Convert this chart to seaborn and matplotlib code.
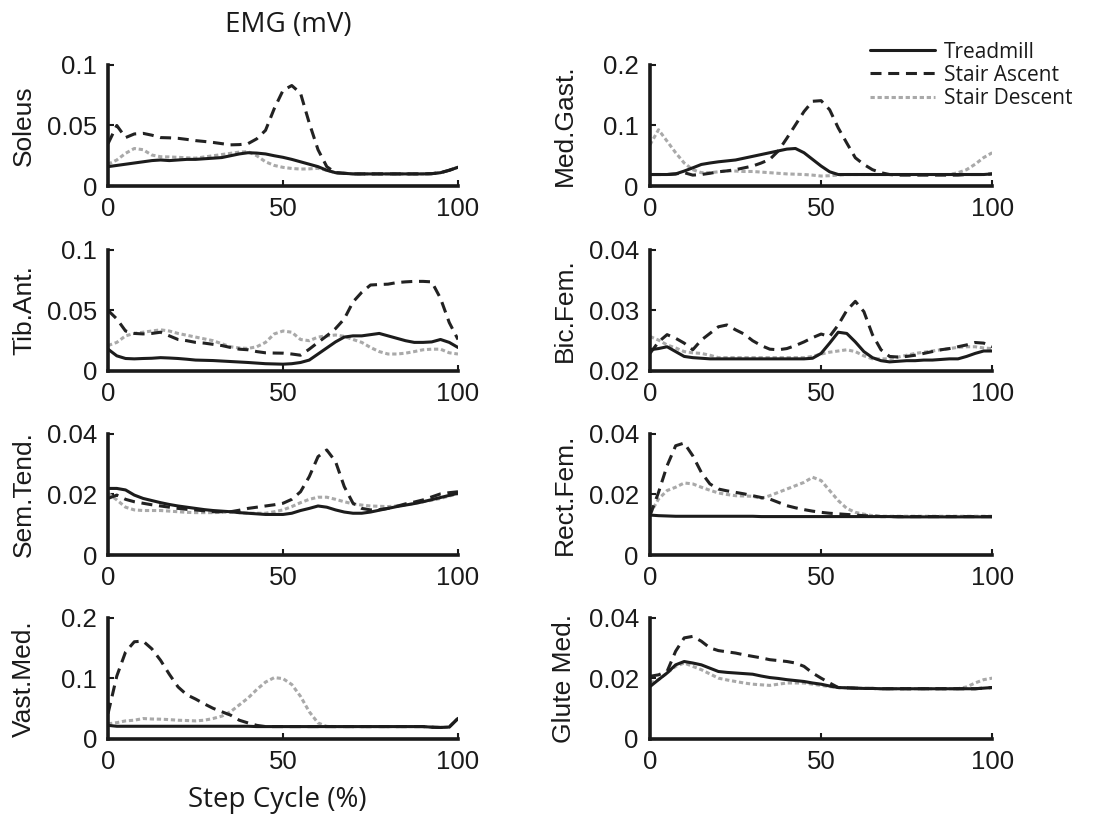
import numpy as np
import pandas as pd
import matplotlib.pyplot as plt
import seaborn as sns

# step cycle sampling (%), every 2.5 %
step_pct = np.arange(0, 100.1, 2.5)

conditions = ['Treadmill', 'Stair Ascent', 'Stair Descent']

# ---- EMG envelopes (mV) ----
soleus_tm = [0.016, 0.017, 0.018, 0.019, 0.020, 0.021, 0.0215, 0.021, 0.0215, 0.022, 0.022, 0.0225, 0.023, 0.0235,
             0.025, 0.0265, 0.0275, 0.0272, 0.0265, 0.025, 0.0237, 0.022, 0.020, 0.018, 0.016, 0.013, 0.011, 0.0105,
             0.010, 0.010, 0.010, 0.010, 0.010, 0.010, 0.010, 0.010, 0.010, 0.0102, 0.011, 0.013, 0.0155]
soleus_sa = [0.035, 0.050, 0.040, 0.043, 0.0435, 0.042, 0.040, 0.0398, 0.0394, 0.0385, 0.0375, 0.0368, 0.036, 0.035,
             0.034, 0.0342, 0.035, 0.039, 0.046, 0.064, 0.079, 0.083, 0.0766, 0.052, 0.030, 0.016, 0.011, 0.0105,
             0.010, 0.010, 0.010, 0.010, 0.010, 0.010, 0.010, 0.010, 0.010, 0.0102, 0.011, 0.013, 0.0155]
soleus_sd = [0.018, 0.0215, 0.027, 0.031, 0.030, 0.0256, 0.0242, 0.024, 0.0237, 0.0233, 0.023, 0.024, 0.025, 0.026,
             0.027, 0.028, 0.0284, 0.025, 0.020, 0.017, 0.0154, 0.0145, 0.014, 0.0142, 0.0146, 0.013, 0.011, 0.0105,
             0.010, 0.010, 0.010, 0.010, 0.010, 0.010, 0.010, 0.010, 0.010, 0.0102, 0.011, 0.013, 0.0155]

medgast_tm = [0.019, 0.019, 0.019, 0.020, 0.0247, 0.030, 0.0356, 0.038, 0.040, 0.0415, 0.043, 0.046, 0.049, 0.052,
              0.055, 0.058, 0.061, 0.062, 0.055, 0.044, 0.033, 0.0235, 0.019, 0.019, 0.019, 0.019, 0.019, 0.019,
              0.019, 0.019, 0.019, 0.019, 0.019, 0.019, 0.019, 0.019, 0.019, 0.019, 0.019, 0.019, 0.020]
medgast_sa = [0.019, 0.019, 0.019, 0.020, 0.022, 0.018, 0.019, 0.021, 0.0235, 0.025, 0.027, 0.030, 0.033, 0.038,
              0.044, 0.058, 0.079, 0.101, 0.123, 0.140, 0.141, 0.126, 0.096, 0.071, 0.0466, 0.0356, 0.027, 0.022,
              0.019, 0.018, 0.018, 0.018, 0.018, 0.018, 0.018, 0.018, 0.018, 0.019, 0.019, 0.019, 0.020]
medgast_sd = [0.068, 0.093, 0.074, 0.055, 0.038, 0.027, 0.022, 0.022, 0.0235, 0.025, 0.0247, 0.024, 0.024, 0.023,
              0.022, 0.021, 0.020, 0.0195, 0.019, 0.018, 0.0165, 0.017, 0.018, 0.019, 0.019, 0.019, 0.019, 0.019,
              0.019, 0.019, 0.019, 0.019, 0.019, 0.019, 0.019, 0.019, 0.022, 0.027, 0.036, 0.047, 0.055]

tibant_tm = [0.018, 0.0125, 0.0103, 0.010, 0.0103, 0.0105, 0.011, 0.0107, 0.0103, 0.0097, 0.009, 0.0088, 0.0086,
             0.0082, 0.0078, 0.0074, 0.007, 0.0065, 0.006, 0.0058, 0.0056, 0.006, 0.007, 0.009, 0.014, 0.019, 0.024,
             0.028, 0.029, 0.029, 0.030, 0.031, 0.029, 0.027, 0.025, 0.0236, 0.0236, 0.024, 0.026, 0.0236, 0.0194]
tibant_sa = [0.050, 0.043, 0.033, 0.031, 0.0306, 0.031, 0.032, 0.029, 0.026, 0.025, 0.0236, 0.023, 0.022, 0.021,
             0.0194, 0.018, 0.0175, 0.016, 0.015, 0.0148, 0.0147, 0.014, 0.013, 0.018, 0.0236, 0.029, 0.035, 0.043,
             0.057, 0.065, 0.071, 0.0714, 0.0717, 0.073, 0.0736, 0.074, 0.074, 0.0736, 0.060, 0.040, 0.026]
tibant_sd = [0.021, 0.0236, 0.029, 0.031, 0.032, 0.033, 0.034, 0.033, 0.031, 0.0295, 0.028, 0.0265, 0.025, 0.0225,
             0.020, 0.019, 0.0186, 0.020, 0.0236, 0.0306, 0.033, 0.032, 0.026, 0.025, 0.028, 0.029, 0.0297, 0.0286,
             0.026, 0.0236, 0.0194, 0.016, 0.014, 0.014, 0.0147, 0.016, 0.0175, 0.018, 0.018, 0.015, 0.014]

bicfem_tm = [0.0235, 0.0237, 0.024, 0.0232, 0.0224, 0.0222, 0.0221, 0.022, 0.022, 0.022, 0.022, 0.022, 0.022, 0.022,
             0.022, 0.022, 0.022, 0.022, 0.022, 0.0221, 0.0229, 0.0246, 0.0264, 0.0262, 0.0248, 0.0232, 0.0222,
             0.0217, 0.0215, 0.0216, 0.0217, 0.0217, 0.0218, 0.0218, 0.0219, 0.022, 0.022, 0.0224, 0.0229, 0.0233,
             0.0233]
bicfem_sa = [0.0229, 0.0248, 0.026, 0.0254, 0.0246, 0.0235, 0.0251, 0.0262, 0.0273, 0.0276, 0.0268, 0.0261, 0.025,
             0.0242, 0.0236, 0.0235, 0.0237, 0.0242, 0.0248, 0.0255, 0.0261, 0.0257, 0.0276, 0.030, 0.0315, 0.0298,
             0.026, 0.0235, 0.0224, 0.0223, 0.0224, 0.0226, 0.0229, 0.0232, 0.0235, 0.0237, 0.024, 0.0243, 0.0247,
             0.0246, 0.024]
bicfem_sd = [0.0257, 0.0251, 0.0243, 0.0238, 0.0232, 0.023, 0.0229, 0.0226, 0.0222, 0.0222, 0.0222, 0.0222, 0.0222,
             0.0222, 0.0222, 0.0222, 0.0222, 0.0222, 0.0222, 0.0224, 0.0228, 0.0231, 0.0233, 0.0235, 0.0232, 0.0225,
             0.022, 0.022, 0.022, 0.0223, 0.0226, 0.0229, 0.0231, 0.0233, 0.0235, 0.0237, 0.0239, 0.024, 0.024,
             0.0238, 0.0237]

semtend_tm = [0.022, 0.022, 0.0215, 0.0198, 0.0187, 0.018, 0.0173, 0.0167, 0.0162, 0.0158, 0.0154, 0.015, 0.0147,
              0.0145, 0.0143, 0.014, 0.0138, 0.0136, 0.0134, 0.0134, 0.0134, 0.0138, 0.0147, 0.0154, 0.0162, 0.0158,
              0.0149, 0.0142, 0.0138, 0.0138, 0.0142, 0.0148, 0.0154, 0.016, 0.0165, 0.017, 0.0176, 0.0183, 0.019,
              0.0197, 0.0204]
semtend_sa = [0.0187, 0.0198, 0.0184, 0.0176, 0.0171, 0.0166, 0.0162, 0.0158, 0.0154, 0.0151, 0.0149, 0.0146,
              0.0143, 0.0143, 0.0143, 0.0148, 0.0154, 0.0158, 0.0162, 0.0166, 0.0171, 0.0184, 0.0209, 0.0259, 0.0325,
              0.0347, 0.0309, 0.0226, 0.0171, 0.0154, 0.0149, 0.015, 0.0154, 0.0161, 0.0169, 0.0175, 0.0182, 0.0192,
              0.0202, 0.0206, 0.0209]
semtend_sd = [0.0204, 0.0182, 0.0158, 0.0149, 0.0147, 0.0147, 0.0147, 0.0145, 0.0143, 0.0141, 0.014, 0.014, 0.014,
              0.0141, 0.0142, 0.014, 0.0138, 0.0138, 0.0138, 0.0143, 0.0149, 0.016, 0.0173, 0.0184, 0.0191, 0.0191,
              0.0184, 0.0176, 0.0169, 0.0165, 0.0162, 0.0161, 0.016, 0.0162, 0.0165, 0.017, 0.0176, 0.0181, 0.0187,
              0.0195, 0.0202]

rectfem_tm = [0.0132, 0.013, 0.0129, 0.0128, 0.0128, 0.0128, 0.0128, 0.0128, 0.0128, 0.0128, 0.0128, 0.0128, 0.0128,
              0.0127, 0.0127, 0.0127, 0.0127, 0.0127, 0.0127, 0.0127, 0.0127, 0.0127, 0.0127, 0.0127, 0.0127, 0.0127,
              0.0127, 0.0127, 0.0127, 0.0126, 0.0126, 0.0126, 0.0126, 0.0126, 0.0126, 0.0126, 0.0126, 0.0126, 0.0126,
              0.0126, 0.0126]
rectfem_sa = [0.013, 0.0207, 0.0295, 0.0361, 0.037, 0.0328, 0.0273, 0.0235, 0.0218, 0.0212, 0.0207, 0.0202, 0.0196,
              0.019, 0.0185, 0.0174, 0.0163, 0.0156, 0.015, 0.0145, 0.0141, 0.0138, 0.0136, 0.0134, 0.0132, 0.013,
              0.0129, 0.0127, 0.0127, 0.0127, 0.0127, 0.0127, 0.0127, 0.0127, 0.0127, 0.0127, 0.0127, 0.0127, 0.0127,
              0.0127, 0.0127]
rectfem_sd = [0.0136, 0.0185, 0.0213, 0.0224, 0.0238, 0.0235, 0.0224, 0.0214, 0.0205, 0.020, 0.0196, 0.0195, 0.0194,
              0.0187, 0.0196, 0.0207, 0.0218, 0.0229, 0.024, 0.0257, 0.0246, 0.0213, 0.018, 0.0154, 0.0141, 0.0135,
              0.013, 0.0128, 0.0128, 0.0128, 0.0128, 0.0128, 0.0128, 0.0128, 0.0128, 0.0128, 0.0128, 0.0128, 0.0128,
              0.0128, 0.0128]

vastmed_tm = [0.0225, 0.021, 0.021, 0.021, 0.021, 0.021, 0.021, 0.021, 0.021, 0.021, 0.021, 0.021, 0.021, 0.021,
              0.021, 0.021, 0.021, 0.0205, 0.0205, 0.0205, 0.0205, 0.0205, 0.0205, 0.0205, 0.0205, 0.0205, 0.0205,
              0.0205, 0.0205, 0.0205, 0.0205, 0.0205, 0.0205, 0.0205, 0.0205, 0.0205, 0.0205, 0.0195, 0.019, 0.0197,
              0.034]
vastmed_sa = [0.042, 0.104, 0.1437, 0.1606, 0.1617, 0.149, 0.130, 0.107, 0.086, 0.073, 0.066, 0.058, 0.0507, 0.045,
              0.0394, 0.031, 0.0265, 0.0225, 0.0205, 0.0205, 0.0205, 0.0205, 0.0205, 0.0205, 0.0205, 0.0205, 0.0205,
              0.0205, 0.0205, 0.0205, 0.0205, 0.0205, 0.0205, 0.0205, 0.0205, 0.0205, 0.0205, 0.0195, 0.019, 0.0197,
              0.034]
vastmed_sd = [0.025, 0.027, 0.0299, 0.031, 0.0338, 0.033, 0.0327, 0.032, 0.031, 0.0305, 0.0299, 0.031, 0.0338,
              0.0377, 0.045, 0.0563, 0.0676, 0.0817, 0.094, 0.1014, 0.0997, 0.090, 0.0704, 0.045, 0.0265, 0.0208,
              0.0205, 0.0205, 0.0205, 0.0205, 0.0205, 0.0205, 0.0205, 0.0205, 0.0205, 0.0205, 0.0205, 0.0195, 0.019,
              0.0197, 0.034]

glutemed_tm = [0.0173, 0.0196, 0.0218, 0.0245, 0.0256, 0.0251, 0.0245, 0.0234, 0.0223, 0.022, 0.0218, 0.0216,
               0.0214, 0.0208, 0.0203, 0.020, 0.0196, 0.0193, 0.019, 0.0185, 0.0181, 0.0175, 0.017, 0.0169, 0.0168,
               0.0167, 0.0167, 0.0166, 0.0166, 0.0166, 0.0166, 0.0166, 0.0166, 0.0166, 0.0166, 0.0166, 0.0166, 0.0166,
               0.0166, 0.0168, 0.017]
glutemed_sa = [0.0207, 0.0212, 0.0223, 0.029, 0.0334, 0.0339, 0.0323, 0.0301, 0.0292, 0.0288, 0.0284, 0.0278,
               0.0273, 0.0268, 0.0262, 0.0259, 0.0256, 0.0251, 0.024, 0.0218, 0.0201, 0.0185, 0.017, 0.0169, 0.0168,
               0.0167, 0.0167, 0.0166, 0.0166, 0.0166, 0.0166, 0.0166, 0.0166, 0.0166, 0.0166, 0.0166, 0.0166, 0.0166,
               0.0166, 0.0168, 0.017]
glutemed_sd = [0.0185, 0.0196, 0.0218, 0.024, 0.0251, 0.024, 0.0229, 0.0215, 0.0201, 0.0195, 0.019, 0.0185, 0.0181,
               0.0179, 0.0177, 0.0181, 0.0185, 0.0185, 0.0185, 0.0181, 0.0177, 0.0173, 0.017, 0.0169, 0.0168, 0.0167,
               0.0167, 0.0166, 0.0166, 0.0166, 0.0166, 0.0166, 0.0166, 0.0166, 0.0166, 0.0166, 0.0166, 0.0172, 0.0185,
               0.0196, 0.0201]

# panel order: row by row, left then right
muscles = ['Soleus', 'Med.Gast.', 'Tib.Ant.', 'Bic.Fem.', 'Sem.Tend.', 'Rect.Fem.', 'Vast.Med.', 'Glute Med.']
series = [
    (soleus_tm, soleus_sa, soleus_sd),
    (medgast_tm, medgast_sa, medgast_sd),
    (tibant_tm, tibant_sa, tibant_sd),
    (bicfem_tm, bicfem_sa, bicfem_sd),
    (semtend_tm, semtend_sa, semtend_sd),
    (rectfem_tm, rectfem_sa, rectfem_sd),
    (vastmed_tm, vastmed_sa, vastmed_sd),
    (glutemed_tm, glutemed_sa, glutemed_sd),
]
y_limits = [(0, 0.1), (0, 0.2), (0, 0.1), (0.02, 0.04), (0, 0.04), (0, 0.04), (0, 0.2), (0, 0.04)]
y_ticks = [[0, 0.05, 0.1], [0, 0.1, 0.2], [0, 0.05, 0.1], [0.02, 0.03, 0.04],
           [0, 0.02, 0.04], [0, 0.02, 0.04], [0, 0.1, 0.2], [0, 0.02, 0.04]]
y_ticklabels = [['0', '0.05', '0.1'], ['0', '0.1', '0.2'], ['0', '0.05', '0.1'], ['0.02', '0.03', '0.04'],
                ['0', '0.02', '0.04'], ['0', '0.02', '0.04'], ['0', '0.1', '0.2'], ['0', '0.02', '0.04']]

rows = []
for muscle, triple in zip(muscles, series):
    for cond, vals in zip(conditions, triple):
        for x, v in zip(step_pct, vals):
            rows.append({'muscle': muscle, 'condition': cond, 'step': x, 'emg': v})
df = pd.DataFrame(rows)

sns.set_style('ticks')
plt.rcParams['font.family'] = ['Liberation Sans', 'DejaVu Sans']

palette = {'Treadmill': '#1c1c1c', 'Stair Ascent': '#222222', 'Stair Descent': '#a9a9a9'}
dashes = {'Treadmill': '', 'Stair Ascent': (3.6, 2.2), 'Stair Descent': (1.4, 0.9)}

fig = plt.figure(figsize=(10.97, 8.18), dpi=100)

col_left = [0.0985, 0.5925]
col_width = [0.319, 0.312]
row_bottom = [0.7726, 0.5465, 0.3215, 0.0966]
row_height = 0.148

for i, muscle in enumerate(muscles):
    r, c = divmod(i, 2)
    ax = fig.add_axes([col_left[c], row_bottom[r], col_width[c], row_height])
    sub = df[df['muscle'] == muscle]
    # light descent curve first so the darker ones sit on top
    sns.lineplot(data=sub, x='step', y='emg', hue='condition', style='condition',
                 hue_order=conditions[::-1], style_order=conditions[::-1],
                 palette=palette, dashes=dashes, linewidth=2.2, ax=ax, legend=False)
    ax.set_xlim(0, 100)
    ax.set_ylim(*y_limits[i])
    ax.set_xticks([0, 50, 100])
    ax.set_xticklabels(['0', '50', '100'])
    ax.set_yticks(y_ticks[i])
    ax.set_yticklabels(y_ticklabels[i])
    ax.tick_params(direction='in', length=4, width=1.5, labelsize=18.5, pad=8, colors='#1a1a1a')
    for side in ['top', 'right']:
        ax.spines[side].set_visible(False)
    for side in ['left', 'bottom']:
        ax.spines[side].set_linewidth(2.6)
        ax.spines[side].set_color('#1a1a1a')
    ax.set_xlabel('')
    ax.set_ylabel(muscle, fontsize=19, color='#1a1a1a', va='center')
    ax.yaxis.set_label_coords(-0.24 if c == 0 else -0.25, 0.5)

fig.text(0.263, 0.97, 'EMG (mV)', ha='center', va='center', fontsize=20,
         family=['Open Sans', 'DejaVu Sans'], color='#1a1a1a')
fig.text(0.253, 0.022, 'Step Cycle (%)', ha='center', va='center', fontsize=20,
         family=['Open Sans', 'DejaVu Sans'], color='#1a1a1a')

# legend in the top right corner
handles = [plt.Line2D([], [], color=palette[c], lw=2.2, dashes=dashes[c] if dashes[c] else (None, None),
                      linestyle='-' if c == 'Treadmill' else '--') for c in conditions]
leg = fig.legend(handles, conditions, loc='upper right', bbox_to_anchor=(0.995, 0.972), frameon=False,
                 handlelength=3.1, handletextpad=0.45, labelspacing=0.1,
                 prop={'family': ['Open Sans', 'DejaVu Sans'], 'size': 15})
for t in leg.get_texts():
    t.set_color('#1a1a1a')

fig.savefig('out.png', dpi=100)
